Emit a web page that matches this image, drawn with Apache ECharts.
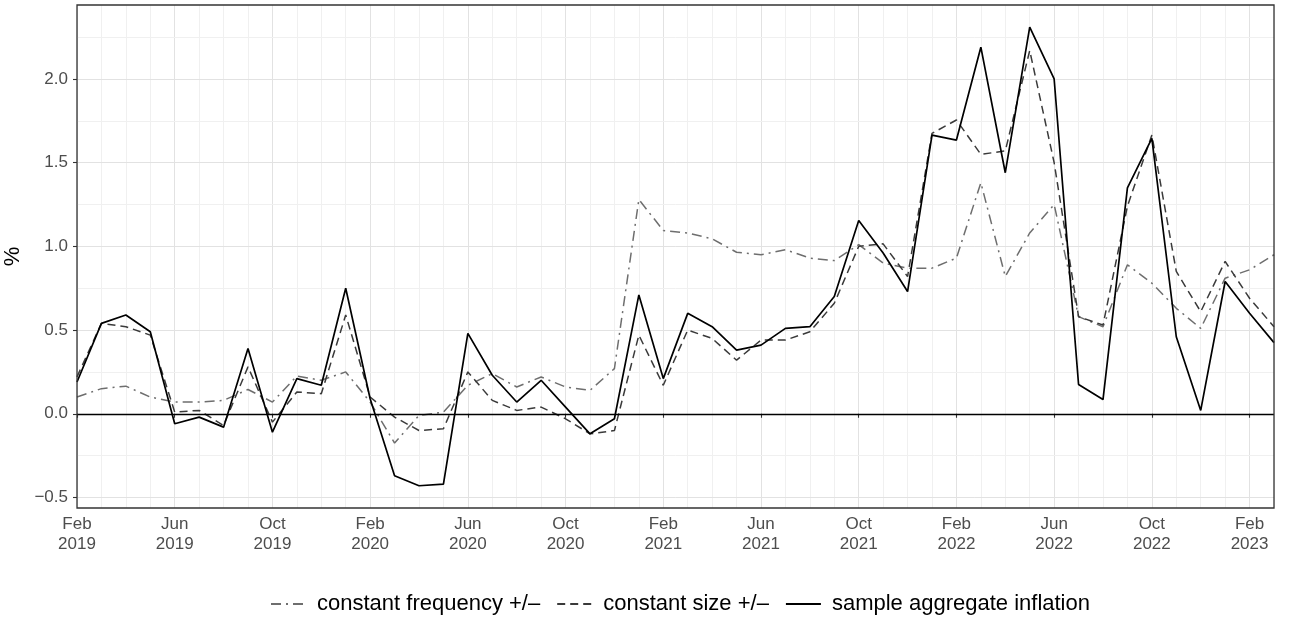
<!DOCTYPE html>
<html>
<head>
    <meta charset="UTF-8">
    <title>inflation</title>
    <script type="text/javascript" src="https://cdn.jsdelivr.net/npm/echarts@6/dist/echarts.min.js"></script>
    <style>
        html, body { margin: 0; padding: 0; background: #fff; }
        #charts { width: 1295px; height: 617px; }
    </style>
</head>
<body>
<div id="charts"></div>
<script type="text/javascript">
    // monthly, Feb 2019 .. Mar 2023
    var months = [
        "Feb 2019", "Mar 2019", "Apr 2019", "May 2019", "Jun 2019", "Jul 2019", "Aug 2019", "Sep 2019",
        "Oct 2019", "Nov 2019", "Dec 2019", "Jan 2020", "Feb 2020", "Mar 2020", "Apr 2020", "May 2020",
        "Jun 2020", "Jul 2020", "Aug 2020", "Sep 2020", "Oct 2020", "Nov 2020", "Dec 2020", "Jan 2021",
        "Feb 2021", "Mar 2021", "Apr 2021", "May 2021", "Jun 2021", "Jul 2021", "Aug 2021", "Sep 2021",
        "Oct 2021", "Nov 2021", "Dec 2021", "Jan 2022", "Feb 2022", "Mar 2022", "Apr 2022", "May 2022",
        "Jun 2022", "Jul 2022", "Aug 2022", "Sep 2022", "Oct 2022", "Nov 2022", "Dec 2022", "Jan 2023",
        "Feb 2023", "Mar 2023"
    ];
    var constFrequency = [
        0.10, 0.15, 0.165, 0.10, 0.07, 0.07, 0.08, 0.145, 0.07, 0.225, 0.20, 0.25,
        0.07, -0.175, -0.01, 0.01, 0.17, 0.24, 0.16, 0.22, 0.16, 0.14, 0.27, 1.28,
        1.095, 1.08, 1.045, 0.965, 0.95, 0.98, 0.93, 0.915, 1.01, 0.90, 0.87, 0.87,
        0.93, 1.38, 0.82, 1.08, 1.25, 0.58, 0.52, 0.89, 0.78, 0.63, 0.51, 0.81,
        0.86, 0.95
    ];
    var constSize = [
        0.22, 0.54, 0.52, 0.47, 0.01, 0.02, -0.07, 0.28, -0.05, 0.13, 0.12, 0.59,
        0.10, -0.02, -0.10, -0.09, 0.25, 0.08, 0.02, 0.04, -0.03, -0.12, -0.10, 0.47,
        0.17, 0.50, 0.45, 0.32, 0.44, 0.44, 0.49, 0.66, 1.00, 1.015, 0.82, 1.675,
        1.755, 1.55, 1.57, 2.17, 1.50, 0.58, 0.53, 1.24, 1.665, 0.85, 0.61, 0.91,
        0.69, 0.52
    ];
    var aggregate = [
        0.19, 0.54, 0.59, 0.49, -0.06, -0.02, -0.08, 0.39, -0.11, 0.21, 0.17, 0.75,
        0.09, -0.37, -0.43, -0.42, 0.48, 0.23, 0.07, 0.20, 0.04, -0.12, -0.03, 0.71,
        0.21, 0.60, 0.52, 0.38, 0.41, 0.51, 0.52, 0.70, 1.155, 0.96, 0.73, 1.665,
        1.635, 2.19, 1.44, 2.31, 2.00, 0.175, 0.085, 1.35, 1.645, 0.46, 0.02, 0.79,
        0.60, 0.425
    ];
    var yTicks = [-0.5, 0, 0.5, 1, 1.5, 2];
    var yMinorTicks = [-0.5, -0.25, 0, 0.25, 0.5, 0.75, 1, 1.25, 1.5, 1.75, 2, 2.25];

    var font = "Liberation Sans, Arial, Helvetica, sans-serif";
    var myChart = echarts.init(document.getElementById('charts'));

    var option = {
        animation: false,
        backgroundColor: '#fff',
        textStyle: { fontFamily: font },
        grid: { left: 77, right: 21, top: 5, bottom: 109, containLabel: false, outerBoundsMode: 'none',
            show: true, borderColor: '#333333', borderWidth: 1.3, z: 10 },
        legend: {
            left: 265,
            top: 588,
            itemWidth: 35,
            itemHeight: 14,
            itemGap: 16,
            itemStyle: { opacity: 0 },
            textStyle: { color: '#000', fontSize: 22, fontFamily: font, padding: [0, 0, 0, 6] },
            data: ['constant frequency +/\u2013', 'constant size +/\u2013', 'sample aggregate inflation']
        },
        xAxis: {
            type: 'category',
            data: months,
            boundaryGap: false,
            axisLine: { show: false },
            axisTick: { show: true, interval: 3, length: 4, lineStyle: { color: '#333333', width: 1.1 } },
            axisLabel: {
                interval: 3, margin: 6, color: '#4d4d4d', fontSize: 17, lineHeight: 20, fontFamily: font,
                formatter: function (v) { return v.replace(' ', '\n'); }
            },
            splitLine: {
                show: true, interval: 0,
                lineStyle: { color: ['#e2e2e2', '#f0f0f0', '#f0f0f0', '#f0f0f0'], width: 1 }
            }
        },
        yAxis: [
            {
                type: 'value',
                min: -0.563,
                max: 2.442,
                name: '%',
                nameLocation: 'middle',
                nameGap: 50,
                nameRotate: 90,
                nameTextStyle: { color: '#000', fontSize: 22, fontFamily: font },
                axisLine: { show: false },
                axisTick: { show: true, length: 4, customValues: yTicks, lineStyle: { color: '#333333', width: 1.1 } },
                axisLabel: {
                    customValues: yTicks, margin: 9, color: '#4d4d4d', fontSize: 17, fontFamily: font,
                    formatter: function (v) { return (v < 0 ? '\u2212' : '') + Math.abs(v).toFixed(1); }
                },
                splitLine: { show: true, lineStyle: { color: '#e2e2e2', width: 1 } },
                z: 3
            },
            {
                type: 'value',
                min: -0.563,
                max: 2.442,
                axisLine: { show: false },
                axisTick: { show: false, customValues: yMinorTicks },
                axisLabel: { show: false, customValues: yMinorTicks },
                splitLine: { show: true, lineStyle: { color: '#f0f0f0', width: 1 } },
                z: 1
            }
        ],
        series: [
            {
                name: 'constant frequency +/\u2013',
                type: 'line',
                data: constFrequency,
                symbol: 'none',
                z: 3,
                lineStyle: { color: '#6e6e6e', width: 1.5, type: [10, 5, 2, 5] },
                itemStyle: { color: '#6e6e6e' }
            },
            {
                name: 'constant size +/\u2013',
                type: 'line',
                data: constSize,
                symbol: 'none',
                z: 4,
                lineStyle: { color: '#3a3a3a', width: 1.5, type: [8, 5] },
                itemStyle: { color: '#3a3a3a' }
            },
            {
                name: 'sample aggregate inflation',
                type: 'line',
                data: aggregate,
                symbol: 'none',
                z: 5,
                lineStyle: { color: '#000', width: 1.7, type: 'solid' },
                itemStyle: { color: '#000' },
                markLine: {
                    silent: true,
                    symbol: 'none',
                    label: { show: false },
                    lineStyle: { color: '#000', width: 1.4, type: 'solid' },
                    data: [{ yAxis: 0 }]
                }
            }
        ]
    };

    option && myChart.setOption(option);
</script>
</body>
</html>
